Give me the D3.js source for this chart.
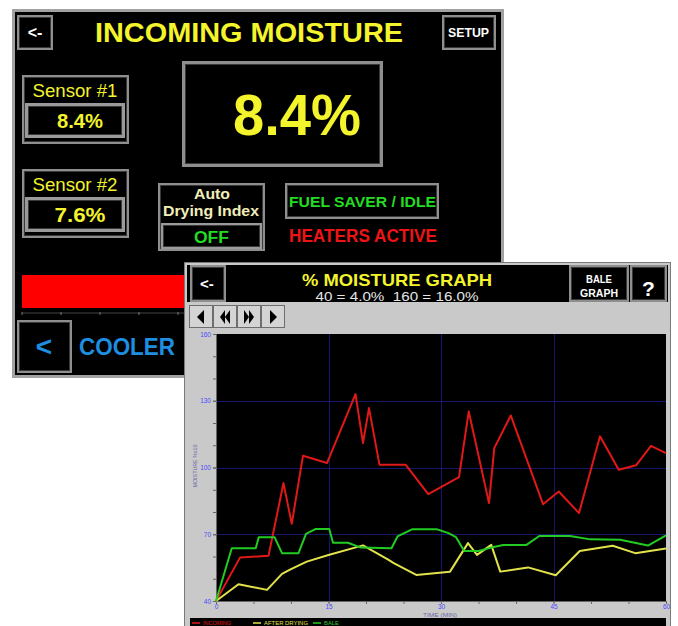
<!DOCTYPE html>
<html>
<head>
<meta charset="utf-8">
<script src="https://cdn.jsdelivr.net/npm/d3@7"></script>
<style>
  body { margin: 0; background: #fff; }
  svg { display: block; font-family: "Liberation Sans", Arial, sans-serif; }
</style>
</head>
<body>
<div id="chart"></div>
<script>
// moisture readings x10 (40 = 4.0%, 160 = 16.0%), [minute, value]
const incoming = [[0, 40], [3.2, 59.5], [7, 60.3], [9, 93], [10.1, 74.7], [11.6, 105.3], [14.8, 102],
  [18.6, 133], [19.6, 111], [20.4, 126.7], [21.8, 101.2], [25.3, 101.2], [28.3, 88], [32.4, 95.7],
  [33.7, 125.2], [36.4, 84], [37.1, 108.7], [39.3, 123.4], [43.6, 83.5], [45.7, 89.2], [48.4, 79.5],
  [51.2, 114], [53.7, 99], [56, 101], [58, 109.7], [60, 106.5]];
const afterDrying = [[0, 40], [3, 47.5], [6.8, 45], [8.8, 52.2], [10, 54.3], [12.1, 57.7], [15, 60.7],
  [19.6, 65], [22.9, 58.7], [23.7, 57], [26.7, 51.7], [31.2, 53.2], [33.6, 66], [34.8, 60.7],
  [36.7, 65.2], [37.9, 53.2], [41.6, 55.1], [45.3, 51.6], [48.5, 62.5], [52.9, 64.8], [55.9, 61.5], [60, 63.6]];
const bale = [[0, 40], [2.1, 63.7], [5.3, 63.7], [5.7, 68.7], [7.8, 68.7], [8.8, 61.5], [11, 61.5],
  [12, 70.2], [13.3, 72.4], [15.1, 72.4], [15.6, 66.2], [17.6, 66.2], [19.3, 64], [23.4, 63.7],
  [24.2, 69], [26.2, 72.3], [29.4, 72.3], [31, 70.5], [32, 68.7], [33.1, 62.5], [35, 62.5],
  [36.7, 64], [38.3, 65.2], [41.4, 65.2], [43.1, 69.2], [47.2, 69.2], [49.9, 67.7], [53.9, 67.5],
  [57.6, 64.9], [60, 69.5]];

const seriesNames = ["INCOMING", "AFTER DRYING", "BALE"];
const seriesColors = ["#e01818", "#e2e24a", "#22cc22"];
const xTicks = [0, 15, 30, 45, 60];
const xMinorTicks = d3.range(0, 61, 5);
const yTicks = [40, 70, 100, 130, 160];
const yMinorTicks = d3.range(40, 161, 10);

const mainReading = "8.4%";
const sensorReadings = ["8.4%", "7.6%"];

const W = 678, H = 626;
const YELLOW = "#f4f42c";
const GREY = "#8e8e8e";

const svg = d3.select("#chart").append("svg").attr("width", W).attr("height", H);

function box(g, x, y, w, h, fill = "#000", stroke = GREY, sw = 2) {
  g.append("rect")
    .attr("x", x + sw / 2).attr("y", y + sw / 2)
    .attr("width", w - sw).attr("height", h - sw)
    .attr("fill", fill).attr("stroke", stroke).attr("stroke-width", sw);
  g.append("rect")
    .attr("x", x + sw + 0.5).attr("y", y + sw + 0.5)
    .attr("width", w - 2 * sw - 1).attr("height", h - 2 * sw - 1)
    .attr("fill", "none").attr("stroke", "#3a3a3a").attr("stroke-width", 1);
}

function label(g, txt, x, y, size, color, opts = {}) {
  const t = g.append("text")
    .attr("x", x).attr("y", y)
    .attr("font-size", size)
    .attr("font-weight", opts.weight || "bold")
    .attr("fill", color)
    .attr("text-anchor", opts.anchor || "middle")
    .text(txt);
  if (opts.len) t.attr("textLength", opts.len).attr("lengthAdjust", "spacingAndGlyphs");
  return t;
}

// ---------- back screen: incoming moisture ----------
const back = svg.append("g").attr("class", "back-screen");
back.append("rect").attr("x", 13.5).attr("y", 10.5).attr("width", 489).attr("height", 366)
  .attr("fill", "#000").attr("stroke", "#a2a2a2").attr("stroke-width", 3);

box(back, 17, 15, 36, 35);
label(back, "<-", 35, 38, 16, "#fff");
label(back, "INCOMING MOISTURE", 95, 42, 28, YELLOW, { anchor: "start", len: 308 });
box(back, 442, 15, 54, 35);
label(back, "SETUP", 468.5, 37, 12, "#fff", { len: 41 });

box(back, 182, 61, 201, 106, "#000", GREY, 3);
label(back, mainReading, 297, 135, 58, YELLOW, { len: 128 });

[75, 169].forEach((top, i) => {
  box(back, 22, top, 107, 69);
  label(back, `Sensor #${i + 1}`, 75, top + 22, 19, YELLOW, { weight: "normal", len: 85 });
  box(back, 25, top + 28, 100, 35, "#000", "#9a9a9a", 3);
  label(back, sensorReadings[i], 80, top + 53, 20, YELLOW, { len: i ? 51 : 46 });
});

box(back, 158, 183, 107, 68);
label(back, "Auto", 212, 199, 14, "#f2eeb8", { len: 36 });
label(back, "Drying Index", 211, 216, 14, "#f2eeb8", { len: 96 });
box(back, 161, 223, 101, 26, "#000", "#9a9a9a", 2);
label(back, "OFF", 211.5, 243, 16, "#22dd22", { len: 35 });

box(back, 285, 183, 154, 36);
label(back, "FUEL SAVER / IDLE", 362.5, 207, 15, "#22dd22", { len: 147 });
label(back, "HEATERS ACTIVE", 363, 242, 18, "#ee1414", { len: 148 });

back.append("rect").attr("x", 22).attr("y", 275).attr("width", 300).attr("height", 33).attr("fill", "#ff0000");
back.append("line").attr("x1", 22).attr("x2", 320).attr("y1", 313).attr("y2", 313)
  .attr("stroke", "#444").attr("stroke-width", 1);
back.selectAll(".bar-tick").data(d3.range(22, 320, 39)).join("line")
  .attr("x1", d => d).attr("x2", d => d).attr("y1", 312).attr("y2", 315)
  .attr("stroke", "#777");

box(back, 17, 320, 55, 53);
label(back, "<", 44, 356, 28, "#1e8ee0");
label(back, "COOLER", 79, 355, 24, "#1e8ee0", { anchor: "start", len: 96 });

// ---------- front screen: moisture graph ----------
const front = svg.append("g").attr("class", "graph-screen");
front.append("rect").attr("x", 184.5).attr("y", 262.5).attr("width", 486).attr("height", 380)
  .attr("fill", "#c9c9c9").attr("stroke", "#7a7a7a").attr("stroke-width", 1);
front.append("rect").attr("x", 187).attr("y", 265).attr("width", 481).attr("height", 37).attr("fill", "#000");

box(front, 190, 265, 36, 37);
label(front, "<-", 207, 289, 15, "#fff");
label(front, "% MOISTURE GRAPH", 397, 286, 17, YELLOW, { len: 190 });
label(front, "40 = 4.0%\u00a0\u00a0160 = 16.0%", 397, 301, 12, "#e6e6e6", { weight: "normal", len: 163 });
box(front, 569, 265, 60, 37);
label(front, "BALE", 599, 283, 11, "#fff", { len: 26 });
label(front, "GRAPH", 599, 297, 11, "#fff", { len: 38 });
box(front, 630, 265, 37, 37);
label(front, "?", 648.5, 296, 21, "#fff");

// navigation buttons
const navGlyphs = [
  "M-4,0 L3,-7 L3,7 Z",
  "M-5,0 L0,-7 L0,7 Z M0,0 L5,-7 L5,7 Z",
  "M5,0 L0,-7 L0,7 Z M0,0 L-5,-7 L-5,7 Z",
  "M4,0 L-3,-7 L-3,7 Z"
];
navGlyphs.forEach((p, i) => {
  const bx = 189 + i * 24;
  front.append("rect").attr("x", bx + 0.5).attr("y", 305.5).attr("width", 23).attr("height", 22)
    .attr("fill", "#d4d4d4").attr("stroke", "#6e6e6e");
  front.append("path").attr("d", p).attr("transform", `translate(${bx + 12},317)`).attr("fill", "#000");
});

// plot
const x = d3.scaleLinear().domain([0, 60]).range([216, 666]);
const y = d3.scaleLinear().domain([40, 160]).range([601, 334]);

front.append("rect").attr("x", 216).attr("y", 334).attr("width", 450).attr("height", 267).attr("fill", "#000");

const grid = front.append("g").attr("stroke", "#16166c").attr("stroke-width", 1);
grid.selectAll(".gx").data(xTicks.slice(1, -1)).join("line")
  .attr("x1", d => Math.round(x(d)) + 0.5).attr("x2", d => Math.round(x(d)) + 0.5)
  .attr("y1", 334).attr("y2", 601);
grid.selectAll(".gy").data(yTicks.slice(1, -1)).join("line")
  .attr("x1", 216).attr("x2", 666)
  .attr("y1", d => Math.round(y(d)) + 0.5).attr("y2", d => Math.round(y(d)) + 0.5);

function styleAxis(g) {
  g.select(".domain").attr("stroke", "#666");
  g.selectAll(".tick line").attr("stroke", "#666");
  g.selectAll(".tick text").attr("fill", "#4a4aff").attr("font-size", 6.5)
    .attr("font-family", "\"Liberation Sans\", Arial, sans-serif");
}

front.append("g").attr("transform", "translate(0,601)")
  .call(d3.axisBottom(x).tickValues(xMinorTicks).tickSize(3).tickFormat(""))
  .call(styleAxis);
front.append("g").attr("transform", "translate(0,601)")
  .call(d3.axisBottom(x).tickValues(xTicks).tickSize(2).tickPadding(1).tickFormat(d3.format("d")))
  .call(styleAxis);
front.append("g").attr("transform", "translate(216,0)")
  .call(d3.axisLeft(y).tickValues(yMinorTicks).tickSize(3).tickFormat(""))
  .call(styleAxis);
front.append("g").attr("transform", "translate(216,0)")
  .call(d3.axisLeft(y).tickValues(yTicks).tickSize(3).tickPadding(2).tickFormat(d3.format("d")))
  .call(styleAxis);

label(front, "TIME (MIN)", 440, 616.5, 5.5, "#6a6aa8", { weight: "normal", len: 34 });
label(front, "MOISTURE %x10", 0, 0, 5, "#6a6aa8", { weight: "normal", len: 43 })
  .attr("transform", "translate(197,466) rotate(-90)");

const line = d3.line().x(d => x(d[0])).y(d => y(d[1]));
[incoming, afterDrying, bale].forEach((s, i) => {
  front.append("path").datum(s)
    .attr("d", line)
    .attr("fill", "none")
    .attr("stroke", seriesColors[i])
    .attr("stroke-width", 2)
    .attr("stroke-linejoin", "round");
});

// legend strip
front.append("rect").attr("x", 190).attr("y", 618).attr("width", 476).attr("height", 12).attr("fill", "#000");
const legendX = [192, 253, 313];
const legendLen = [28, 44, 15];
seriesNames.forEach((n, i) => {
  front.append("line").attr("x1", legendX[i]).attr("x2", legendX[i] + 8)
    .attr("y1", 623).attr("y2", 623).attr("stroke", seriesColors[i]).attr("stroke-width", 1.5);
  label(front, n, legendX[i] + 11, 624.5, 6, seriesColors[i], { anchor: "start", weight: "normal", len: legendLen[i] });
});
</script>
</body>
</html>
